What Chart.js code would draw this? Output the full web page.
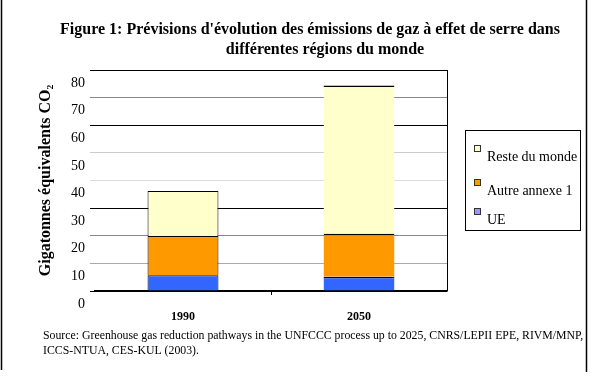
<!DOCTYPE html>
<html>
<head>
<meta charset="utf-8">
<script src="https://cdn.jsdelivr.net/npm/chart.js@4"></script>
<style>
  body { margin: 0; background: #fff; }
</style>
</head>
<body>
<canvas id="myChart" width="592" height="376"></canvas>
<script>
// données (Gt eq. CO2)
const categories = ["1990", "2050"];
const ue = [5.7, 5.2];
const autreAnnexe1 = [14.2, 15.5];
const resteDuMonde = [16.3, 53.7];
const yMax = 80;
const yStep = 10;

const titleLines = [
  "Figure 1: Prévisions d'évolution des émissions de gaz à effet de serre dans",
  "différentes régions du monde"
];
const sourceLines = [
  "Source: Greenhouse gas reduction pathways in the UNFCCC process up to 2025, CNRS/LEPII EPE, RIVM/MNP,",
  "ICCS-NTUA, CES-KUL (2003)."
];

const serif = "'Liberation Serif', 'Times New Roman', serif";

// 1990 : contour complet, 2050 : seulement le trait du haut
const barBorder = (ctx) => ctx.dataIndex === 0
  ? { top: 1, left: 1, right: 1, bottom: 0 }
  : { top: 1.5, left: 0, right: 0, bottom: 0 };

// couleurs des traits de grille (image d'origine un peu dégradée)
const gridColors = { 0: "#000", 10: "#aaa", 20: "#888", 30: "#000", 40: "#ddd", 50: "#ccc", 60: "#000", 70: "#888", 80: "#000" };

const ctx = document.getElementById("myChart");

// dessin du titre, cadre, légende, source
const decor = {
  id: "decor",
  afterDraw(chart) {
    const c = chart.ctx;
    const area = chart.chartArea;
    c.save();
    c.fillStyle = "#000";
    c.strokeStyle = "#000";

    // cadre extérieur (gauche / droite)
    c.lineWidth = 1.5;
    c.beginPath();
    c.moveTo(1.5, 0); c.lineTo(1.5, 370);
    c.moveTo(586.5, 0); c.lineTo(586.5, 372);
    c.stroke();

    // bord droit de la zone de tracé
    c.lineWidth = 1;
    c.beginPath();
    c.moveTo(Math.round(area.right) + 0.5, area.top);
    c.lineTo(Math.round(area.right) + 0.5, area.bottom);
    c.stroke();

    // petite graduation entre les deux catégories
    const xs = chart.scales.x;
    const mid = (xs.getPixelForValue(0) + xs.getPixelForValue(1)) / 2;
    c.beginPath();
    c.moveTo(Math.round(mid) + 0.5, area.bottom);
    c.lineTo(Math.round(mid) + 0.5, area.bottom + 4);
    c.stroke();

    // titre
    c.font = "bold 16px " + serif;
    c.textAlign = "center";
    c.textBaseline = "middle";
    c.fillText(titleLines[0], 310, 30);
    c.fillText(titleLines[1], 325, 50);

    // légende
    c.lineWidth = 1;
    c.strokeRect(465.5, 130.5, 115, 100);
    const legendColors = ["#9999FF", "#FF9900", "#FFFFCC"];
    const rows = [157, 191, 220];
    c.font = "14px " + serif;
    c.textAlign = "left";
    const ds = chart.data.datasets;
    for (let i = 0; i < ds.length; i++) {
      const k = ds.length - 1 - i;
      const y = rows[i];
      c.fillStyle = legendColors[k];
      c.fillRect(474, y - 12, 7, 7);
      c.strokeStyle = "#333";
      c.strokeRect(474.5, y - 11.5, 6, 6);
      c.fillStyle = "#000";
      c.fillText(ds[k].label, 487, y);
    }

    // source
    c.font = "11.8px " + serif;
    c.fillText(sourceLines[0], 43, 336);
    c.fillText(sourceLines[1], 43, 351);
    c.restore();
  }
};

const data = {
  labels: categories,
  datasets: [
    {
      label: "UE",
      data: ue,
      backgroundColor: "#3366FF",
      borderColor: "#000",
      borderWidth: barBorder,
      borderSkipped: false
    },
    {
      label: "Autre annexe 1",
      data: autreAnnexe1,
      backgroundColor: "#FF9900",
      borderColor: "#000",
      borderWidth: barBorder,
      borderSkipped: false
    },
    {
      label: "Reste du monde",
      data: resteDuMonde,
      backgroundColor: "#FFFFCC",
      borderColor: "#000",
      borderWidth: barBorder,
      borderSkipped: false
    }
  ]
};

const config = {
  type: "bar",
  data: data,
  options: {
    responsive: false,
    animation: false,
    categoryPercentage: 1,
    barPercentage: 0.403,
    layout: { padding: { left: 33, right: 145, top: 70, bottom: 0 } },
    plugins: {
      legend: { display: false },
      title: { display: false },
      tooltip: { enabled: false }
    },
    scales: {
      x: {
        stacked: true,
        grid: { display: false, drawTicks: false },
        border: { display: true, color: "#000", width: 1.5 },
        ticks: { color: "#000", font: { family: serif, size: 12, weight: "bold" }, padding: 19 },
        afterFit: (scale) => { scale.height = 85; }
      },
      y: {
        stacked: true,
        min: 0,
        max: yMax,
        ticks: {
          stepSize: yStep,
          color: "#000",
          font: { family: serif, size: 14 },
          padding: 5,
          labelOffset: 13
        },
        grid: {
          color: (c) => gridColors[c.tick.value] || "#888",
          lineWidth: 1,
          drawTicks: true,
          tickLength: 5
        },
        border: { display: false },
        title: {
          display: true,
          text: "Gigatonnes équivalents CO₂",
          color: "#000",
          font: { family: serif, size: 16, weight: "bold" },
          padding: { top: 3, bottom: 3 }
        },
        afterFit: (scale) => { scale.width = 62; }
      }
    }
  },
  plugins: [decor]
};

let myChart = new Chart(ctx, config);
</script>
</body>
</html>
